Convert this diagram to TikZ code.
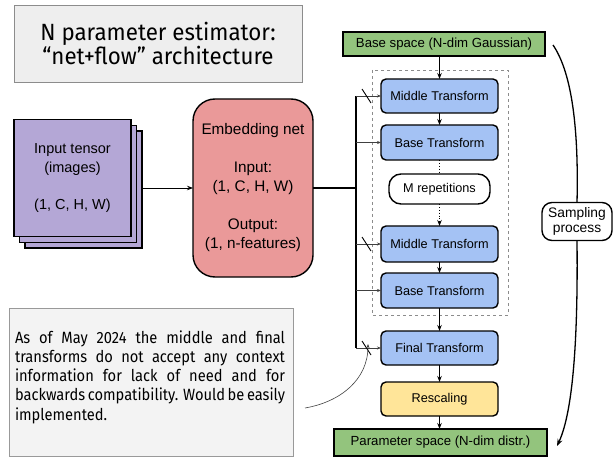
\documentclass[tikz,border=0pt]{standalone}
\usepackage{fontspec}
\setmainfont{Liberation Sans}
\newfontfamily\condfont[FakeStretch=0.95]{Fira Sans}
\newfontfamily\notefont[FakeStretch=0.9]{Fira Sans}
\usetikzlibrary{arrows.meta,calc}
\definecolor{tensorc}{HTML}{B4A7D6}
\definecolor{embc}{HTML}{EA9999}
\definecolor{bluec}{HTML}{A4C2F4}
\definecolor{greenc}{HTML}{93C47D}
\definecolor{yellowc}{HTML}{FFE599}
\definecolor{titlec}{HTML}{EEEEEE}
\definecolor{notec}{HTML}{F3F3F3}
\newcommand{\jline}[1]{\makebox[270pt][s]{#1}}
\begin{document}
\begin{tikzpicture}[x=1pt,y=-1pt,
  every node/.style={inner sep=0pt, outer sep=0pt},
  txt/.style={font=\fontsize{12.7}{19}\selectfont, align=center},
  tensor/.style={draw=black, line width=1.3pt, fill=tensorc, minimum width=117pt, minimum height=117pt},
  tbox/.style={draw=black, line width=1.4pt, fill=bluec, rounded corners=5pt, minimum width=117pt, txt},
  gbox/.style={draw=black, line width=1.4pt, fill=greenc, align=center, font=\fontsize{13.2}{16}\selectfont},
  arr/.style={-{Stealth[length=6pt,width=4.5pt]}, line width=0.9pt},
  ctx/.style={-{Stealth[length=4pt,width=3pt]}, line width=0.6pt, draw=black!75},
  slash/.style={line width=0.9pt}
]
\useasboundingbox (0,0) rectangle (613,457);
% title
\node[draw=black!45, fill=titlec, line width=0.8pt, minimum width=288pt, minimum height=77pt,
  font=\condfont\fontsize{23.5}{23.5}\selectfont, align=center] (title) at (158,43.5)
  {N parameter estimator:\\“net+flow” architecture};
% input tensor stack
\node[tensor] (t3) at (83.5,189.5) {};
\node[tensor] (t2) at (78,184) {};
\node[tensor, align=center, font=\fontsize{14.5}{19}\selectfont] (t1) at (72.5,178) {Input tensor\\(images)\\[18pt](1, C, H, W)};
% embedding net
\node[draw=black, line width=1.4pt, fill=embc, rounded corners=22pt, minimum width=120pt, minimum height=178pt,
  align=center, font=\fontsize{15.3}{19}\selectfont]
  (emb) at (253,188) {Embedding net\\[19pt]Input:\\(1, C, H, W)\\[19pt]Output:\\(1, n-features)};
\draw[arr] (t3.east |- emb.west) -- (emb.west);
% dashed repetition box
\draw[dashed, draw=black!45, line width=0.7pt] (372,70) rectangle (508,315);
% flow column
\node[gbox, minimum width=202pt, minimum height=24pt] (base) at (444,44) {Base space (N-dim Gaussian)};
\node[tbox, minimum height=34pt] (mt1) at (439.5,96) {Middle Transform};
\node[tbox, minimum height=35pt] (bt1) at (439.5,142.5) {Base Transform};
\node[draw=black, line width=1.4pt, fill=white, rounded corners=12pt, minimum width=101pt, minimum height=30pt, txt]
  (mrep) at (439.5,189) {M repetitions};
\node[tbox, minimum height=36pt] (mt2) at (439.5,244) {Middle Transform};
\node[tbox, minimum height=35pt] (bt2) at (439.5,290.5) {Base Transform};
\node[tbox, minimum height=34pt] (ft) at (439.5,348) {Final Transform};
\node[tbox, fill=yellowc, minimum height=34pt] (resc) at (439.5,399) {Rescaling};
\node[gbox, minimum width=213pt, minimum height=27pt] (param) at (440.5,442.5) {Parameter space (N-dim distr.)};
% vertical arrows
\draw[arr] (base.south -| mt1.north) -- (mt1.north);
\draw[arr] (mt1) -- (bt1);
\draw[dotted, line width=0.9pt] (bt1) -- (mrep);
\draw[dotted, arr] (mrep) -- (mt2);
\draw[arr] (mt2) -- (bt2);
\draw[arr] (bt2) -- (ft);
\draw[arr] (ft) -- (resc);
\draw[arr] (resc) -- (param.north -| resc.south);
% context bus
\coordinate (bustop) at (356,96);
\coordinate (busbot) at (356,348);
\draw[line width=1.5pt] (emb.east) -- (emb.east -| bustop);
\draw[line width=1.5pt] (bustop) -- (busbot);
\draw[ctx] (bustop) -- (mt1.west);
\draw[ctx] (bustop |- bt1.west) -- (bt1.west);
\draw[ctx] (bustop |- mt2.west) -- (mt2.west);
\draw[ctx] (bustop |- bt2.west) -- (bt2.west);
\draw[ctx] (busbot) -- (ft.west);
\draw[slash] ($(mt1.west)+(-19,-7)$) -- ++(9,14);
\draw[slash] ($(mt2.west)+(-19,-7)$) -- ++(9,14);
\draw[slash] ($(ft.west)+(-19,-7)$) -- ++(9,14);
% sampling process
\node[draw=black, line width=1.4pt, fill=white, rounded corners=10pt, minimum width=70pt, minimum height=38pt,
  align=center, font=\fontsize{13.8}{15.5}\selectfont] (samp) at (577,221.5) {Sampling\\process};
\coordinate (sstart) at (553,45);
\coordinate (send) at (557,446);
\draw[line width=1.3pt] (sstart) .. controls (570,70) and (579,120) .. (samp.north);
\draw[line width=1.3pt, -{Stealth[length=7pt,width=5pt]}] (samp.south) .. controls (578,330) and (574,410) .. (send);
% note
\node[draw=black!40, fill=notec, line width=0.8pt, minimum width=284pt, minimum height=148pt] (note) at (151,382) {};
\node[font=\notefont\fontsize{16.3}{19.3}\selectfont, align=left] (notetxt) at (150,377)
  {\jline{As of May 2024 the middle and final}\\
   \jline{transforms do not accept any context}\\
   \jline{information for lack of need and for}\\
   \jline{backwards compatibility. Would be easily}\\
   \makebox[270pt][l]{implemented.}};
\coordinate (nstart) at (305,408);
\coordinate (nend) at (368,344);
\draw[line width=0.6pt, draw=black!75, -{Stealth[length=4pt,width=3pt]}] (nstart) .. controls (340,402) and (368,380) .. (nend);
\end{tikzpicture}
\end{document}
